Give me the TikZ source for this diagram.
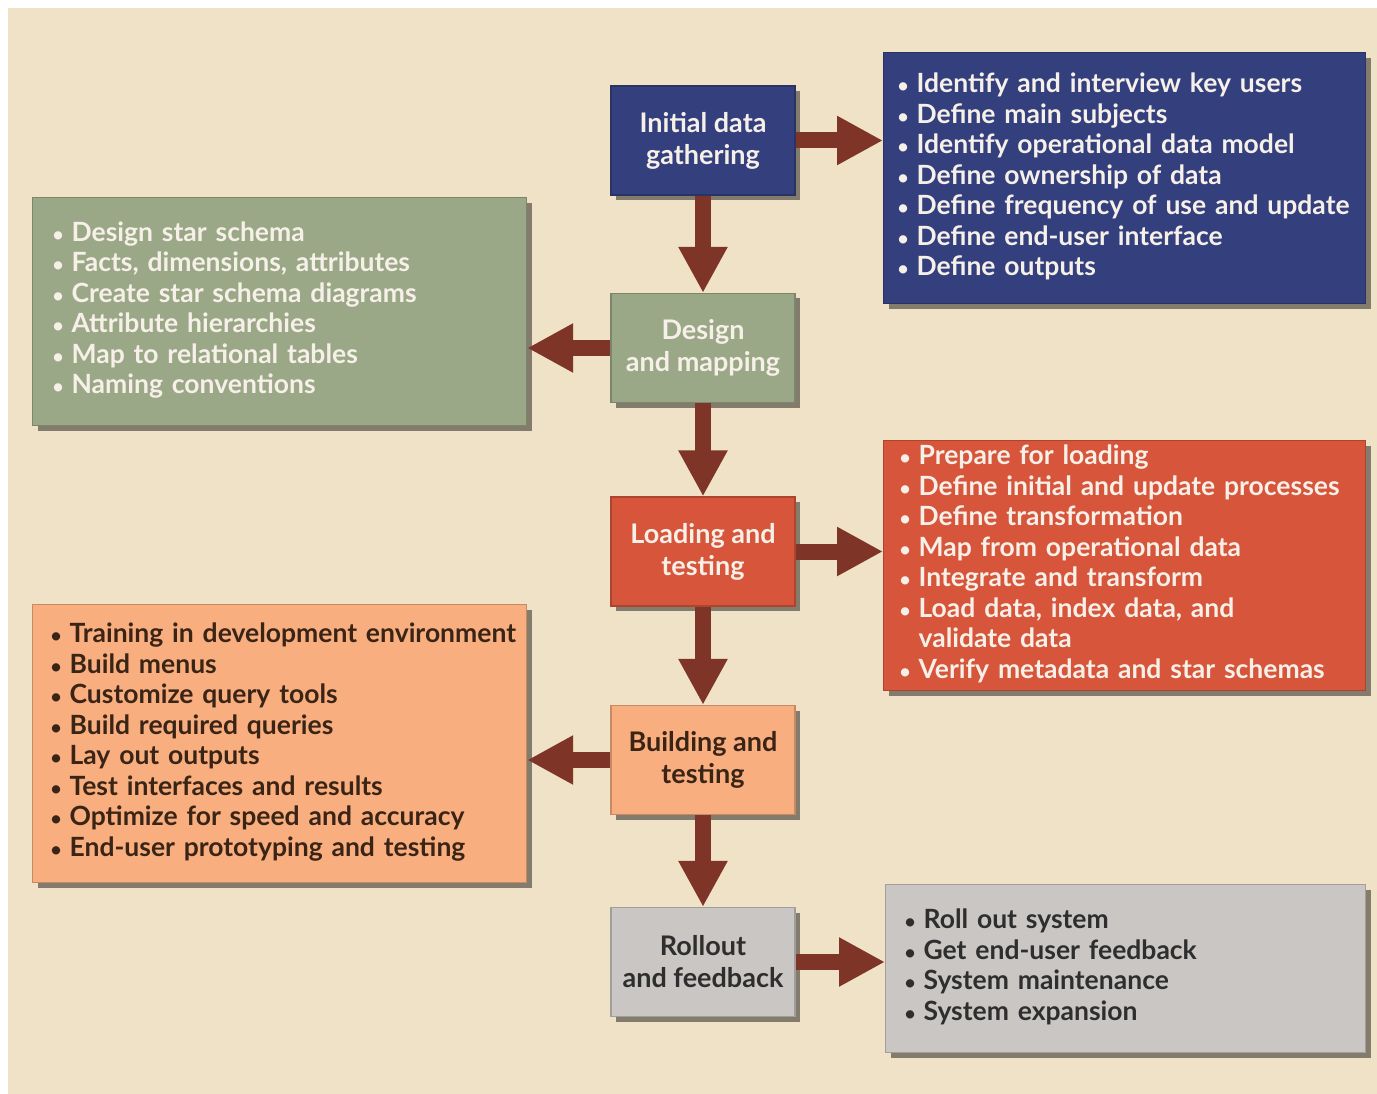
\documentclass[tikz,border=0pt]{standalone}
\usepackage{fontspec}
\setmainfont{Lato}
\usetikzlibrary{arrows.meta,shadows}

\definecolor{pagebg}{HTML}{F0E2C6}
\definecolor{navybox}{HTML}{33407D}
\definecolor{sagebox}{HTML}{9BA887}
\definecolor{redbox}{HTML}{D7553A}
\definecolor{orangebox}{HTML}{F8AE7E}
\definecolor{graybox}{HTML}{C9C6C4}
\definecolor{arrowc}{HTML}{7E3426}
\definecolor{lighttext}{HTML}{F6F0E8}
\definecolor{browntext}{HTML}{3A2416}
\definecolor{darktext}{HTML}{2E2E2E}

% one bulleted line of a task list
\newcommand{\itemrow}[1]{{\fontsize{19}{19}\selectfont\textbullet} & #1 \\}

\tikzset{
  boxshadow/.style={drop shadow={shadow xshift=5pt, shadow yshift=-5pt, opacity=0.45, fill=black}},
  stage/.style 2 args={fill=#1, draw=#1!80!black, line width=1.2pt, text=#2,
    minimum width=184pt, minimum height=109pt, inner sep=0pt, align=center,
    font=\bfseries\fontsize{27}{32}\selectfont, boxshadow},
  itembox/.style n args={3}{fill=#1, draw=#1!80!black, line width=1.2pt, text=#2,
    anchor=north west, align=left, inner ysep=0pt, inner xsep=#3,
    font=\bfseries\fontsize{26.5}{30.5}\selectfont, boxshadow},
  flow/.style={draw=arrowc, line width=16pt,
    -{Triangle[length=46pt 0, width=46pt 0]}},
}

\begin{document}
\begin{tikzpicture}[x=1pt, y=-1pt]
  \useasboundingbox (0,0) rectangle (1377,1094);
  \fill[pagebg] (8,8) rectangle (1377,1094);

  % process stages down the middle
  \node[stage={navybox}{lighttext}]   (init)   at (703,140.5) {Initial data\\gathering};
  \node[stage={sagebox}{lighttext}]   (design) at (703,348)   {Design\\and mapping};
  \node[stage={redbox}{lighttext}]    (load)   at (703,551.5) {Loading and\\testing};
  \node[stage={orangebox}{browntext}] (build)  at (703,760)   {Building and\\testing};
  \node[stage={graybox}{darktext}]    (roll)   at (703,962)   {Rollout\\and feedback};

  % task lists beside each stage
  \node[itembox={navybox}{lighttext}{14pt}, text width=454pt, minimum height=251pt] (tgather) at (883,52) {%
    \begin{tabular}{@{}l@{\hspace{8pt}}l@{}}
      \itemrow{Identify and interview key users}
      \itemrow{Define main subjects}
      \itemrow{Identify operational data model}
      \itemrow{Define ownership of data}
      \itemrow{Define frequency of use and update}
      \itemrow{Define end-user interface}
      \itemrow{Define outputs}
    \end{tabular}};

  \node[itembox={sagebox}{lighttext}{20pt}, text width=454pt, minimum height=228pt] (tdesign) at (32,197) {%
    \begin{tabular}{@{}l@{\hspace{8pt}}l@{}}
      \itemrow{Design star schema}
      \itemrow{Facts, dimensions, attributes}
      \itemrow{Create star schema diagrams}
      \itemrow{Attribute hierarchies}
      \itemrow{Map to relational tables}
      \itemrow{Naming conventions}
    \end{tabular}};

  \node[itembox={redbox}{lighttext}{16pt}, text width=450pt, minimum height=250pt] (tload) at (883,440) {%
    \begin{tabular}{@{}l@{\hspace{8pt}}l@{}}
      \itemrow{Prepare for loading}
      \itemrow{Define initial and update processes}
      \itemrow{Define transformation}
      \itemrow{Map from operational data}
      \itemrow{Integrate and transform}
      \itemrow{Load data, index data, and}
      & validate data \\
      \itemrow{Verify metadata and star schemas}
    \end{tabular}};

  \node[itembox={orangebox}{browntext}{18pt}, text width=458pt, minimum height=278pt] (tbuild) at (32,604) {%
    \begin{tabular}{@{}l@{\hspace{8pt}}l@{}}
      \itemrow{Training in development environment}
      \itemrow{Build menus}
      \itemrow{Customize query tools}
      \itemrow{Build required queries}
      \itemrow{Lay out outputs}
      \itemrow{Test interfaces and results}
      \itemrow{Optimize for speed and accuracy}
      \itemrow{End-user prototyping and testing}
    \end{tabular}};

  \node[itembox={graybox}{darktext}{19pt}, text width=442pt, minimum height=168pt] (troll) at (885,884) {%
    \begin{tabular}{@{}l@{\hspace{8pt}}l@{}}
      \itemrow{Roll out system}
      \itemrow{Get end-user feedback}
      \itemrow{System maintenance}
      \itemrow{System expansion}
    \end{tabular}};

  % flow between stages
  \draw[flow] (init)   -- (design);
  \draw[flow] (design) -- (load);
  \draw[flow] (load)   -- (build);
  \draw[flow] (build)  -- (roll);

  % from each stage to its tasks
  \draw[flow] (init.east)   -- (init.east -| tgather.west);
  \draw[flow] (design.west) -- (design.west -| tdesign.east);
  \draw[flow] (load.east)   -- (load.east -| tload.west);
  \draw[flow] (build.west)  -- (build.west -| tbuild.east);
  \draw[flow] (roll.east)   -- (roll.east -| troll.west);
\end{tikzpicture}
\end{document}
